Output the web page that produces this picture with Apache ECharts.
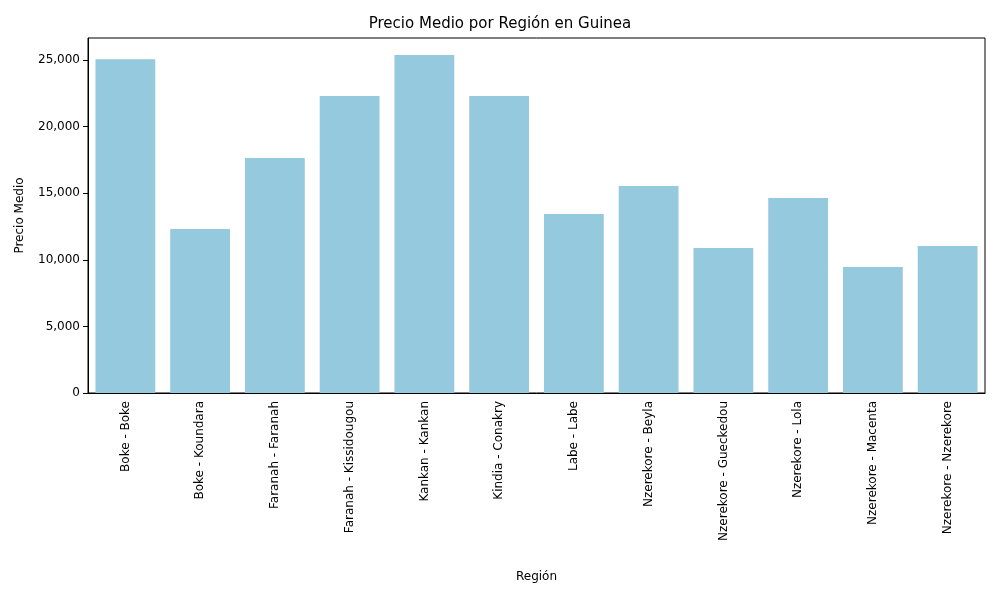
<!DOCTYPE html>
<html><head><meta charset="utf-8">
<script src="https://cdn.jsdelivr.net/npm/echarts@6/dist/echarts.min.js"></script>
<style>body{margin:0}#chart{width:1000px;height:600px}</style>
</head><body><div id="chart"></div>
<script>
const regions = ['Boke - Boke','Boke - Koundara','Faranah - Faranah','Faranah - Kissidougou','Kankan - Kankan','Kindia - Conakry','Labe - Labe','Nzerekore - Beyla','Nzerekore - Gueckedou','Nzerekore - Lola','Nzerekore - Macenta','Nzerekore - Nzerekore']
const prices = [25050, 12310, 17640, 22300, 25370, 22300, 13440, 15540, 10890, 14640, 9460, 11040]

const chart = echarts.init(document.getElementById('chart'))
const txt = { color: '#000', fontFamily: 'DejaVu Sans', fontSize: 12 }
chart.setOption({
  animation: false,
  title: { text: 'Precio Medio por Región en Guinea', left: 'center', top: 12,
    textStyle: { ...txt, fontSize: 15, fontWeight: 'normal' } },
  grid: { left: 88, right: 15, top: 38, bottom: 207, show: true, borderColor: '#000', borderWidth: 1 },
  xAxis: {
    type: 'category', data: regions, name: 'Región', nameLocation: 'middle', nameGap: 178,
    nameTextStyle: txt,
    axisLine: { lineStyle: { color: '#000' } },
    axisTick: { alignWithLabel: true, lineStyle: { color: '#000' } },
    axisLabel: { ...txt, rotate: 90, interval: 0 }
  },
  yAxis: {
    type: 'value', min: 0, max: 26650, interval: 5000, name: 'Precio Medio',
    nameLocation: 'middle', nameGap: 62, nameTextStyle: txt,
    axisLine: { show: true, lineStyle: { color: '#000' } },
    axisTick: { show: true, lineStyle: { color: '#000' } },
    axisLabel: { ...txt, showMaxLabel: false },
    splitLine: { show: false }
  },
  series: [{ type: 'bar', data: prices, barCategoryGap: '20%', itemStyle: { color: '#95c9de' } }]
})
</script></body></html>
